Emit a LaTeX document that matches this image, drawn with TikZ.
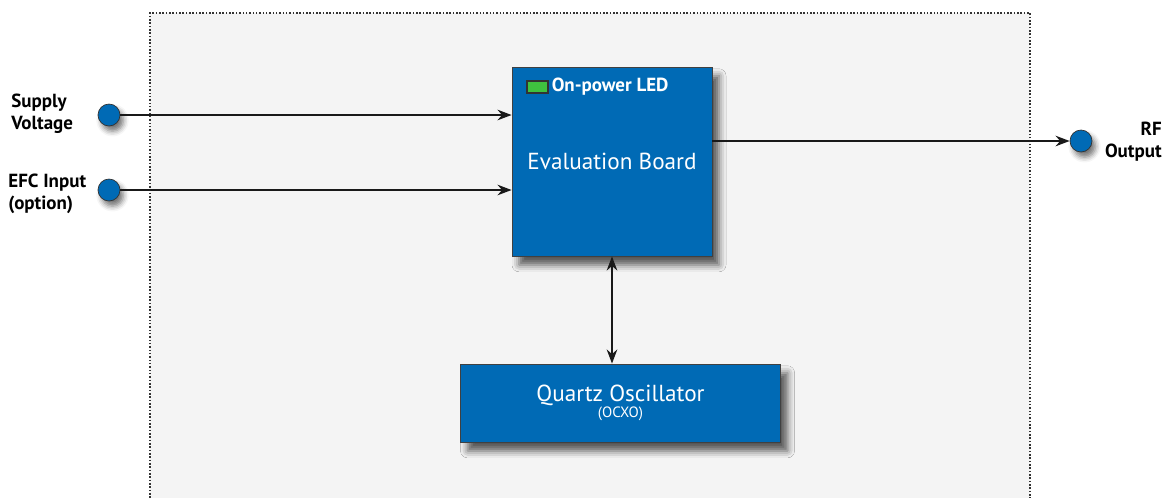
\documentclass[tikz,border=0pt]{standalone}
\usepackage{fontspec}
\setmainfont{PT Sans}
\usetikzlibrary{positioning, arrows.meta, shadows.blur}
\definecolor{boardblue}{HTML}{006AB5}
\definecolor{panelgray}{HTML}{F4F4F4}
\definecolor{ledgreen}{HTML}{3FC23F}
\tikzset{
  block/.style={draw=black!75, fill=boardblue, text=white, line width=0.5pt,
    blur shadow={shadow xshift=4pt, shadow yshift=-5pt, shadow blur radius=4pt, shadow opacity=65}},
  port/.style={circle, draw=black!80, fill=boardblue, minimum size=0.44cm, inner sep=0pt,
    blur shadow={shadow xshift=2pt, shadow yshift=-3pt, shadow blur radius=3pt, shadow opacity=55}},
  portlabel/.style={font=\bfseries\fontsize{10.8}{12.5}\selectfont, inner sep=0pt},
  signal/.style={line width=1.1pt, black!90, -{Stealth[length=8pt,width=6pt]}}
}
\begin{document}
\begin{tikzpicture}[x=0.02cm, y=-0.02cm]
        \useasboundingbox (0,0) rectangle (1167,498);
        % housing
        \fill[panelgray] (150,13) rectangle (1030,498);
        \draw[densely dotted, line width=0.9pt, black!80] (150,498)--(150,13)--(1030,13)--(1030,498);
        % blocks
        \node[block, minimum width=4cm, minimum height=3.78cm,
          font=\fontsize{13.2}{15}\selectfont] (board) at (612,161.5) {Evaluation Board};
        \node[block, minimum width=6.4cm, minimum height=1.56cm, align=center] (ocxo) at (620.5,403)
          {\fontsize{13.2}{15}\selectfont Quartz Oscillator\\[-3pt]\fontsize{8.5}{9}\selectfont (OCXO)};
        \node[draw=black!80, fill=ledgreen, minimum width=0.42cm, minimum height=0.24cm,
          inner sep=0pt, line width=0.9pt] (led) at (537.5,87) {};
        \node[right=1.5pt of led, text=white, font=\bfseries\fontsize{10.8}{12}\selectfont,
          inner sep=0pt] (ledtext) {On-power LED};
        % ports
        \node[port] (supply) at (109,115) {};
        \node[port] (efc) at (109,190) {};
        \node[port] (rfout) at (1081,141) {};
        \node[portlabel, align=left, anchor=west] (supplytext) at (11,114) {Supply\\Voltage};
        \node[portlabel, align=left, anchor=west] (efctext) at (8,194) {EFC Input\\(option)};
        \node[portlabel, align=right, anchor=east] (rftext) at (1162,142) {RF\\Output};
        % signals
        \draw[signal] (supply) -- (supply -| board.west);
        \draw[signal] (efc) -- (efc -| board.west);
        \draw[signal] (board.east |- rfout) -- (rfout);
        \draw[signal, {Stealth[length=8pt,width=6pt]}-{Stealth[length=8pt,width=6pt]}]
          (board.south) -- (board.south |- ocxo.north);
\end{tikzpicture}
\end{document}
